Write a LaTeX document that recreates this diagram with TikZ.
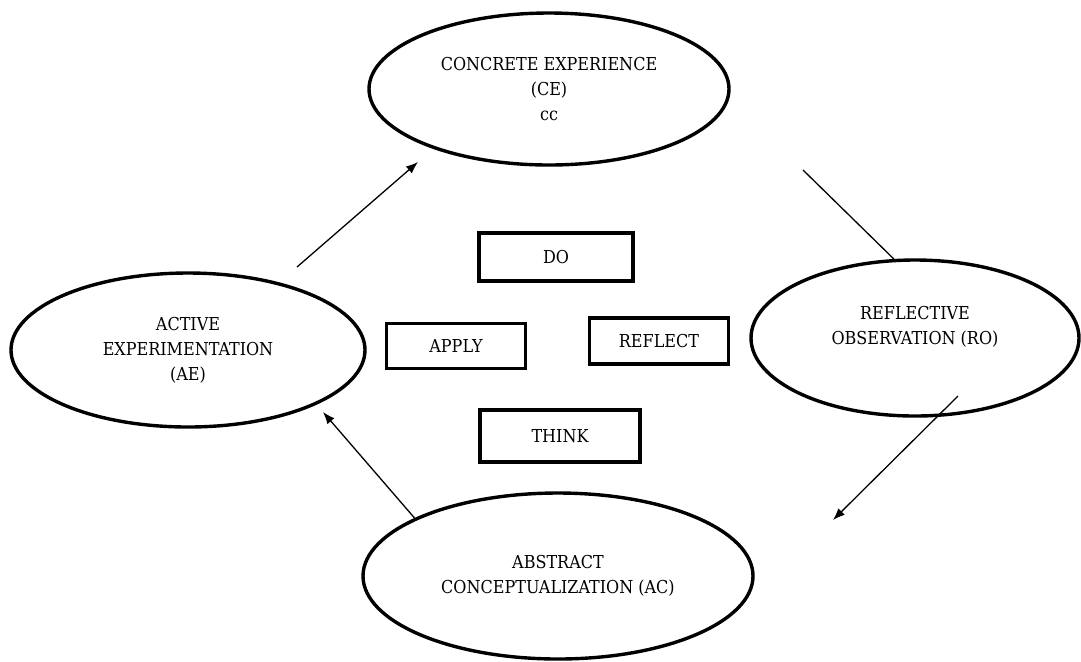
\documentclass[tikz,border=0pt]{standalone}
\usepackage{fontspec}
\setmainfont{DejaVu Serif Condensed}
\usetikzlibrary{shapes.geometric,arrows.meta}

\begin{document}
\begin{tikzpicture}[x=0.5pt,y=-0.5pt]


\def\px{0.5pt}
\def\lineWidth{1.7pt}
\def\arrowWidth{0.65pt}
\def\textsize{\fontsize{8.9}{12.5}\selectfont}

\tikzset{
  stage/.style={draw, ellipse, line width=\lineWidth, inner sep=0pt, align=center, font=\textsize},
  action/.style={draw, rectangle, line width=\lineWidth, inner sep=0pt, font=\textsize},
  cyclearrow/.style={line width=\arrowWidth, -{Latex[length=6pt,width=4.6pt]}}
}

\useasboundingbox (0,0) rectangle (1081,661);

\coordinate (ce-center) at (549,89);
\coordinate (ro-center) at (915,338);
\coordinate (ae-center) at (188,350);
\coordinate (ac-center) at (558,576);

\coordinate (do-center) at (556,257);
\coordinate (apply-center) at (456,346);
\coordinate (reflect-center) at (659,341);
\coordinate (think-center) at (560,436);

\coordinate (ae-out) at (297,267);
\coordinate (ce-in) at (418,162);
\coordinate (ce-out) at (803,170);
\coordinate (ro-out) at (958,396);
\coordinate (ac-in) at (833,520);
\coordinate (ae-in) at (323,412);


%STAGES

\node[stage, minimum width=360*\px, minimum height=152*\px] (ce) at (ce-center) {CONCRETE EXPERIENCE\\(CE)\\cc};
\node[stage, minimum width=328*\px, minimum height=156*\px] (ro) at (ro-center) {REFLECTIVE\\OBSERVATION (RO)\\ \mbox{}};
\node[stage, minimum width=354*\px, minimum height=154*\px] (ae) at (ae-center) {ACTIVE\\EXPERIMENTATION\\(AE)};
\node[stage, minimum width=390*\px, minimum height=166*\px] (ac) at (ac-center) {ABSTRACT\\CONCEPTUALIZATION (AC)};

%ACTIONS

\node[action, minimum width=154*\px, minimum height=48*\px] (do) at (do-center) {DO};
\node[action, minimum width=139*\px, minimum height=45*\px] (apply) at (apply-center) {APPLY};
\node[action, minimum width=139*\px, minimum height=46*\px] (reflect) at (reflect-center) {REFLECT};
\node[action, minimum width=160*\px, minimum height=52*\px] (think) at (think-center) {THINK};

%CYCLE

\draw[cyclearrow] (ae-out) -- (ce-in);
\draw[line width=\arrowWidth] (ce-out) -- (ro.105);
\draw[cyclearrow] (ro-out) -- (ac-in);
\draw[cyclearrow] (ac.158) -- (ae-in);


\end{tikzpicture}
\end{document}
